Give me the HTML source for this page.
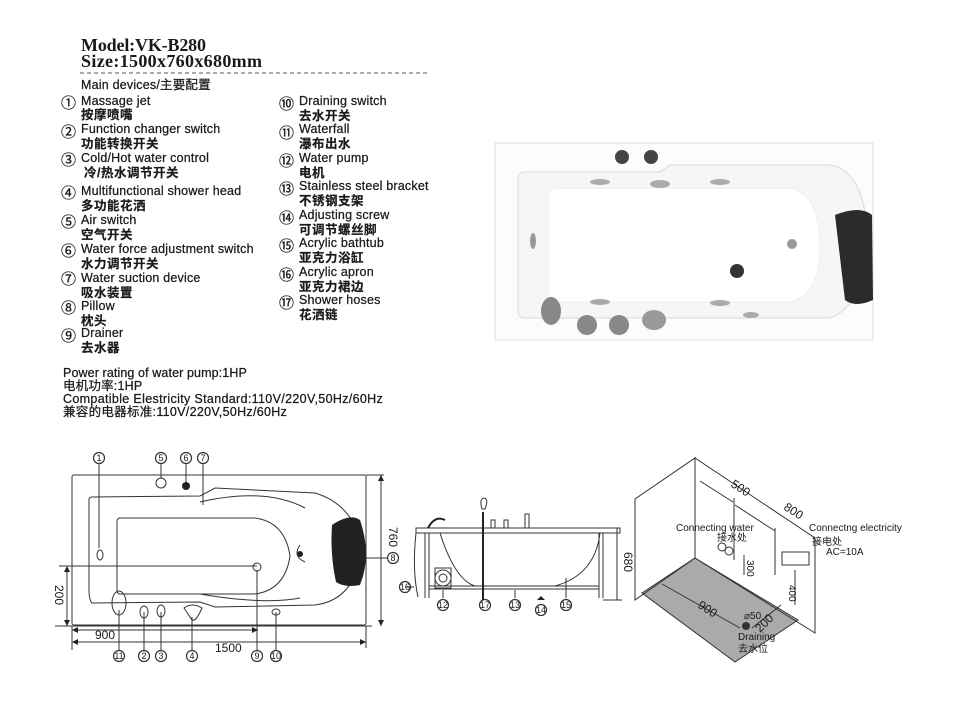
<!DOCTYPE html>
<html><head><meta charset="utf-8"><style>
body{margin:0;background:#fff}
svg{display:block}
text{font-family:"Liberation Sans","Noto Sans CJK SC",sans-serif;fill:#1a1a1a}
.t text{font-size:12.5px;letter-spacing:0.2px;stroke:#1a1a1a;stroke-width:0.25}
.t text.c{font-size:12.5px;font-weight:bold;letter-spacing:0.5px;stroke-width:0.2}
.t text.o{font-size:15px;stroke-width:0.3}
.n{font-size:9px;text-anchor:middle}
</style></head><body>
<svg width="960" height="720" viewBox="0 0 960 720" xmlns="http://www.w3.org/2000/svg">
<text x="81" y="51" textLength="125" style="font-family:'Liberation Serif',serif;font-weight:bold;font-size:18px">Model:VK-B280</text>
<text x="81" y="67" textLength="181" style="font-family:'Liberation Serif',serif;font-weight:bold;font-size:18px">Size:1500x760x680mm</text>
<line x1="80" y1="73" x2="428" y2="73" stroke="#555" stroke-dasharray="4,3"/>
<g class="t">
<text x="81" y="89">Main devices/主要配置</text>
<text class="o" x="61" y="108">①</text><text x="81" y="105">Massage jet</text><text class="c" x="81" y="119">按摩喷嘴</text>
<text class="o" x="61" y="137">②</text><text x="81" y="133">Function changer switch</text><text class="c" x="81" y="148">功能转换开关</text>
<text class="o" x="61" y="165">③</text><text x="81" y="162">Cold/Hot water control</text><text class="c" x="84" y="177">冷/热水调节开关</text>
<text class="o" x="61" y="198">④</text><text x="81" y="195">Multifunctional shower head</text><text class="c" x="81" y="210">多功能花洒</text>
<text class="o" x="61" y="227">⑤</text><text x="81" y="224">Air switch</text><text class="c" x="81" y="239">空气开关</text>
<text class="o" x="61" y="256">⑥</text><text x="81" y="253">Water force adjustment switch</text><text class="c" x="81" y="268">水力调节开关</text>
<text class="o" x="61" y="284">⑦</text><text x="81" y="282">Water suction device</text><text class="c" x="81" y="297">吸水装置</text>
<text class="o" x="61" y="313">⑧</text><text x="81" y="310">Pillow</text><text class="c" x="81" y="325">枕头</text>
<text class="o" x="61" y="341">⑨</text><text x="81" y="337">Drainer</text><text class="c" x="81" y="352">去水器</text>
<text class="o" x="279" y="109">⑩</text><text x="299" y="105">Draining switch</text><text class="c" x="299" y="120">去水开关</text>
<text class="o" x="279" y="138">⑪</text><text x="299" y="133">Waterfall</text><text class="c" x="299" y="148">瀑布出水</text>
<text class="o" x="279" y="166">⑫</text><text x="299" y="162">Water pump</text><text class="c" x="299" y="177">电机</text>
<text class="o" x="279" y="194">⑬</text><text x="299" y="190">Stainless steel bracket</text><text class="c" x="299" y="205">不锈钢支架</text>
<text class="o" x="279" y="223">⑭</text><text x="299" y="219">Adjusting screw</text><text class="c" x="299" y="234">可调节螺丝脚</text>
<text class="o" x="279" y="251">⑮</text><text x="299" y="247">Acrylic bathtub</text><text class="c" x="299" y="262">亚克力浴缸</text>
<text class="o" x="279" y="280">⑯</text><text x="299" y="276">Acrylic apron</text><text class="c" x="299" y="291">亚克力裙边</text>
<text class="o" x="279" y="308">⑰</text><text x="299" y="304">Shower hoses</text><text class="c" x="299" y="319">花洒链</text>
<text x="63" y="377" textLength="184">Power rating of water pump:1HP</text>
<text x="63" y="390">电机功率:1HP</text>
<text x="63" y="403" textLength="320">Compatible Elestricity Standard:110V/220V,50Hz/60Hz</text>
<text x="63" y="416" textLength="224">兼容的电器标准:110V/220V,50Hz/60Hz</text>
</g>

<!-- photo -->
<rect x="495" y="143" width="378" height="197" fill="#fcfcfc" stroke="#ddd"/>
<path d="M524 172 L660 172 L670 165 L830 165 Q865 170 868 240 Q865 305 830 318 L660 318 L524 318 Q518 318 518 310 L518 180 Q518 172 524 172Z" fill="#f6f6f6" stroke="#d8d8d8"/>
<path d="M560 188 L790 188 Q820 195 820 245 Q820 295 790 302 L560 302 Q548 300 548 290 L548 198 Q548 188 560 188Z" fill="#fff" stroke="#eee"/>
<path d="M835 215 Q860 205 872 215 L873 300 Q855 308 845 300 Z" fill="#2b2b2b"/>
<circle cx="622" cy="157" r="7" fill="#444"/><circle cx="651" cy="157" r="7" fill="#444"/>
<circle cx="737" cy="271" r="7" fill="#333"/>
<circle cx="792" cy="244" r="5" fill="#999"/><ellipse cx="533" cy="241" rx="3" ry="8" fill="#999"/>
<ellipse cx="551" cy="311" rx="10" ry="14" fill="#888"/>
<circle cx="587" cy="325" r="10" fill="#888"/><circle cx="619" cy="325" r="10" fill="#888"/>
<ellipse cx="654" cy="320" rx="12" ry="10" fill="#999"/>
<g fill="#aaa"><ellipse cx="600" cy="182" rx="10" ry="3"/><ellipse cx="660" cy="184" rx="10" ry="4"/><ellipse cx="720" cy="182" rx="10" ry="3"/><ellipse cx="600" cy="302" rx="10" ry="3"/><ellipse cx="720" cy="303" rx="10" ry="3"/><ellipse cx="751" cy="315" rx="8" ry="3"/></g>

<!-- top view -->
<g fill="none" stroke="#333" stroke-width="1">
<rect x="72" y="475" width="294" height="150" rx="2"/>
<path d="M92 497 L200 496 L215 488 L315 493 Q355 505 362 550 Q355 600 315 605 L215 607 L200 602 L92 603 Q89 600 89 590 L89 500 Q89 497 92 497Z"/>
<path d="M120 518 L255 518 Q285 522 290 556 Q285 590 255 594 L120 594 Q117 594 117 590 L117 522 Q117 518 120 518Z"/>
<path d="M200 502 Q265 487 305 508"/><path d="M200 594 Q265 605 300 598"/>
<line x1="59" y1="566" x2="257" y2="566"/>
<line x1="55" y1="626" x2="372" y2="626"/>
<line x1="67" y1="569" x2="67" y2="626"/>
<line x1="381" y1="475" x2="381" y2="626"/><line x1="366" y1="475" x2="384" y2="475"/>
<line x1="74" y1="630" x2="258" y2="630"/><line x1="74" y1="642" x2="366" y2="642"/>
<line x1="72" y1="626" x2="72" y2="650"/><line x1="366" y1="626" x2="366" y2="648"/>
<line x1="99" y1="464" x2="99" y2="548"/><line x1="161" y1="464" x2="161" y2="478"/><line x1="186" y1="464" x2="186" y2="482"/><line x1="203" y1="464" x2="203" y2="505"/>
<line x1="366" y1="558" x2="387" y2="558"/>
<line x1="119" y1="650" x2="119" y2="610"/><line x1="144" y1="650" x2="144" y2="612"/><line x1="161" y1="650" x2="161" y2="612"/><line x1="192" y1="650" x2="192" y2="617"/><line x1="257" y1="650" x2="257" y2="570"/><line x1="276" y1="650" x2="276" y2="612"/>
<ellipse cx="100" cy="555" rx="3" ry="5"/><ellipse cx="119" cy="603" rx="7" ry="12"/>
<circle cx="161" cy="483" r="5"/><ellipse cx="144" cy="612" rx="4" ry="6"/><ellipse cx="161" cy="611" rx="4" ry="6"/>
<path d="M184 608 Q192 602 202 608 Q196 622 192 620Z"/><ellipse cx="276" cy="612" rx="4" ry="3"/>
<circle cx="257" cy="567" r="4"/><path d="M300 545 Q292 556 305 562"/>
</g>
<circle cx="186" cy="486" r="4" fill="#222"/><circle cx="300" cy="554" r="3" fill="#222"/>
<path d="M332 525 Q350 513 360 520 Q372 555 360 585 Q345 588 336 582 Q330 555 332 525Z" fill="#222"/>
<g fill="#222"><path d="M381 475 l-3 6 h6z"/><path d="M381 626 l-3 -6 h6z"/><path d="M67 566 l-3 6 h6z"/><path d="M67 626 l-3 -6 h6z"/><path d="M72 630 l6 -3 v6z"/><path d="M258 630 l-6 -3 v6z"/><path d="M72 642 l6 -3 v6z"/><path d="M366 642 l-6 -3 v6z"/></g>
<text x="95" y="639" font-size="12">900</text><text x="215" y="652" font-size="12">1500</text>
<text transform="translate(389,527) rotate(90)" font-size="12">760</text>
<text transform="translate(55,585) rotate(90)" font-size="12">200</text>
<g fill="#fff" stroke="#333" stroke-width="1.2"><circle cx="99" cy="458" r="5.5"/><circle cx="161" cy="458" r="5.5"/><circle cx="186" cy="458" r="5.5"/><circle cx="203" cy="458" r="5.5"/><circle cx="393" cy="558" r="5.5"/><circle cx="119" cy="656" r="5.5"/><circle cx="144" cy="656" r="5.5"/><circle cx="161" cy="656" r="5.5"/><circle cx="192" cy="656" r="5.5"/><circle cx="257" cy="656" r="5.5"/><circle cx="276" cy="656" r="5.5"/>
<circle cx="405" cy="587" r="5.5"/><circle cx="443" cy="605" r="5.5"/><circle cx="485" cy="605" r="5.5"/><circle cx="515" cy="605" r="5.5"/><circle cx="541" cy="610" r="5.5"/><circle cx="566" cy="605" r="5.5"/></g>
<g class="n"><text x="99" y="461">1</text><text x="161" y="461">5</text><text x="186" y="461">6</text><text x="203" y="461">7</text><text x="393" y="561">8</text><text x="119" y="659">11</text><text x="144" y="659">2</text><text x="161" y="659">3</text><text x="192" y="659">4</text><text x="257" y="659">9</text><text x="276" y="659">10</text>
<text x="405" y="590">16</text><text x="443" y="608">12</text><text x="485" y="608">17</text><text x="515" y="608">13</text><text x="541" y="613">14</text><text x="566" y="608">15</text></g>

<!-- side view -->
<g fill="none" stroke="#333">
<rect x="416" y="528" width="204" height="5"/>
<line x1="425" y1="533" x2="425" y2="598"/><line x1="429" y1="533" x2="429" y2="598"/>
<line x1="599" y1="533" x2="599" y2="598"/><line x1="603" y1="533" x2="603" y2="598"/>
<line x1="429" y1="586" x2="599" y2="586"/><line x1="429" y1="589" x2="599" y2="589"/>
<path d="M440 533 Q455 580 475 586"/><path d="M555 586 Q595 575 600 533"/>
<path d="M416 533 Q412 570 418 597"/>
<line x1="617" y1="528" x2="617" y2="600"/><line x1="603" y1="600" x2="622" y2="600"/>
<path d="M482 509 q-3 -10 2 -11 q5 1 1 11z"/>
<rect x="491" y="520" width="4" height="8"/><rect x="504" y="520" width="4" height="8"/><rect x="525" y="514" width="4" height="14"/>
<circle cx="443" cy="578" r="8"/><circle cx="443" cy="578" r="4"/><rect x="435" y="568" width="16" height="20"/>
<line x1="405" y1="587" x2="414" y2="587"/><line x1="443" y1="598" x2="443" y2="590"/><line x1="515" y1="598" x2="515" y2="590"/><line x1="566" y1="598" x2="566" y2="578"/>
</g>
<line x1="483" y1="512" x2="483" y2="600" stroke="#222" stroke-width="2"/>
<path d="M428 528 Q435 515 445 520" stroke="#222" stroke-width="2" fill="none"/>
<path d="M537 600 h8 l-4 -4z" fill="#222"/>
<text transform="translate(624,552) rotate(90)" font-size="12">680</text>

<!-- room -->
<polygon points="695,558 798,620 735,662 642,593" fill="#aaa"/>
<g fill="none" stroke="#333">
<polygon points="635,499 695,458 695,558 635,600"/>
<polygon points="695,458 815,538 815,633 695,558"/>
<polygon points="695,558 798,620 735,662 642,593"/>
<line x1="700" y1="481" x2="733" y2="502"/><line x1="735" y1="505" x2="775" y2="531"/>
<line x1="734" y1="498" x2="734" y2="560"/><line x1="775" y1="528" x2="775" y2="575"/>
<line x1="744" y1="555" x2="744" y2="575"/><line x1="795" y1="570" x2="795" y2="605"/>
<line x1="662" y1="584" x2="740" y2="628"/><line x1="752" y1="628" x2="781" y2="605"/>
<circle cx="722" cy="547" r="4"/><circle cx="729" cy="551" r="4"/>
<rect x="782" y="552" width="27" height="13"/>
</g>
<circle cx="746" cy="626" r="4" fill="#333"/>
<g font-size="10"><text x="676" y="531">Connecting water</text><text x="717" y="541">接水处</text>
<text x="809" y="531">Connectng electricity</text><text x="812" y="545">接电处</text><text x="826" y="555">AC=10A</text>
<text x="738" y="640">Draining</text><text x="738" y="652">去水位</text><text x="744" y="619">⌀50</text></g>
<text transform="translate(730,486) rotate(33)" font-size="12">500</text>
<text transform="translate(783,509) rotate(33)" font-size="12">800</text>
<text transform="translate(747,560) rotate(90)" font-size="10">300</text>
<text transform="translate(789,585) rotate(90)" font-size="10">400</text>
<text transform="translate(697,607) rotate(33)" font-size="12">900</text>
<text transform="translate(760,633) rotate(-45)" font-size="12">200</text>
</svg>
</body></html>
